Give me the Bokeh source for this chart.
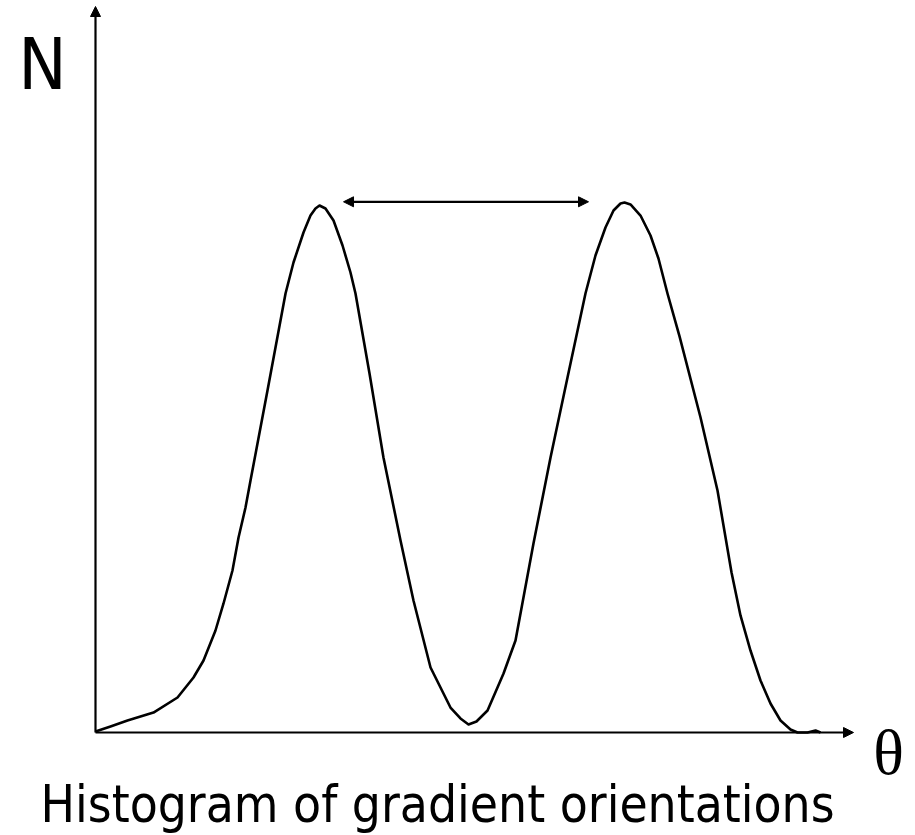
from bokeh.plotting import figure
from bokeh.models import Range1d, Arrow, NormalHead, Label
from bokeh.embed import file_html
from bokeh.resources import INLINE

# Orientation (theta, arbitrary units 0..100) and count N (0..100)
theta = [0.0, 1.98, 4.22, 7.65, 10.82, 12.93, 14.25, 15.83, 16.89, 18.07, 18.87,
         19.79, 20.45, 22.69, 25.07, 26.12, 27.44, 28.36, 29.02, 29.55, 30.34,
         31.40, 32.59, 33.64, 34.30, 36.15, 37.99, 40.24, 41.95, 44.20, 46.83,
         48.15, 49.21, 50.26, 51.72, 53.83, 55.41, 57.78, 60.03, 62.27, 64.64,
         65.96, 67.28, 68.34, 69.26, 69.79, 70.58, 71.90, 73.22, 74.27, 75.46,
         77.05, 79.82, 82.06, 83.91, 85.09, 86.41, 87.73, 89.05, 90.37, 91.69,
         92.61, 93.93, 94.99, 95.65]
counts = [0.14, 0.83, 1.65, 2.75, 4.82, 7.58, 9.92, 14.05, 17.77, 22.31, 26.86,
          30.99, 34.71, 47.11, 60.47, 64.74, 68.87, 71.21, 72.18, 72.59, 72.18,
          70.52, 67.08, 63.36, 60.47, 49.45, 37.88, 26.45, 18.18, 8.95, 3.44,
          1.93, 1.10, 1.52, 3.03, 8.13, 12.67, 26.03, 37.88, 48.90, 60.47,
          65.70, 69.56, 71.90, 72.87, 73.00, 72.73, 71.21, 68.46, 65.29, 60.47,
          54.55, 43.39, 33.33, 22.04, 16.12, 11.29, 7.16, 3.99, 1.65, 0.41,
          0.0, 0.0, 0.28, 0.0]

x_axis_end = 100
y_axis_end = 100
spread_from = 32.72
spread_to = 65.04
spread_level = 73.1

W, H = 915, 835
SX, SY = 7.58, 7.26
OX, OY = 95, 732  # canvas position of the origin

p = figure(width=W, height=H, output_backend="svg", toolbar_location=None,
           x_range=Range1d(-OX / SX, (W - OX) / SX),
           y_range=Range1d(-(H - OY) / SY, OY / SY),
           min_border=0, background_fill_color="white")
p.axis.visible = False
p.grid.visible = False
p.outline_line_color = None

p.line(theta, counts, line_color="black", line_width=2.6, line_join="round")

def head():
    return NormalHead(size=10, fill_color="black", line_color="black", line_width=1)

p.add_layout(Arrow(end=head(), x_start=0, y_start=0, x_end=x_axis_end, y_end=0,
                   line_color="black", line_width=2.2))
p.add_layout(Arrow(end=head(), x_start=0, y_start=0, x_end=0, y_end=y_axis_end,
                   line_color="black", line_width=2.2))
p.add_layout(Arrow(start=head(), end=head(), x_start=spread_from, y_start=spread_level,
                   x_end=spread_to, y_end=spread_level, line_color="black", line_width=2.2))

FONT = "DejaVu Sans Condensed"
p.add_layout(Label(x=42, y=H - 63, x_units="screen", y_units="screen", text="N",
                   text_font=FONT, text_font_size="72px", text_align="center",
                   text_baseline="alphabetic", text_color="black"))
p.add_layout(Label(x=888, y=H - 752, x_units="screen", y_units="screen", text="θ",
                   text_font="Liberation Serif", text_font_size="64px", text_align="center",
                   text_baseline="alphabetic", text_color="black"))
p.add_layout(Label(x=40, y=H - 804, x_units="screen", y_units="screen",
                   text="Histogram of gradient orientations",
                   text_font=FONT, text_font_size="51px", text_align="left",
                   text_baseline="alphabetic", text_color="black"))

open("out.html", "w").write(file_html(p, INLINE))
